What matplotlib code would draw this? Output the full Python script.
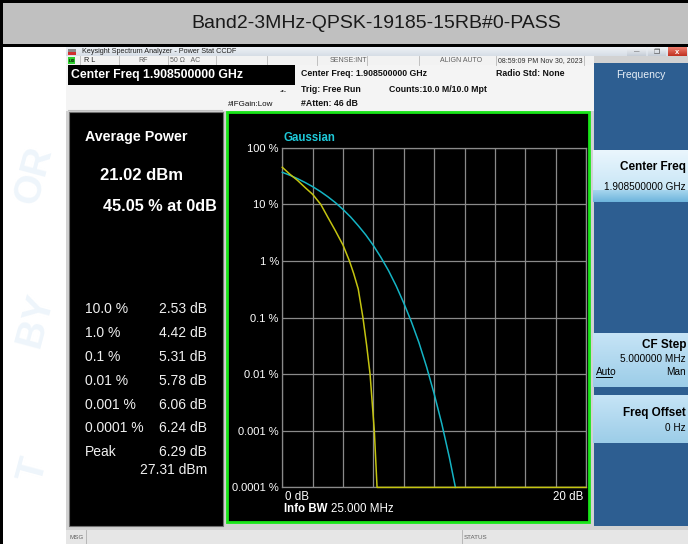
import numpy as np
import matplotlib
matplotlib.use("Agg")
import matplotlib.pyplot as plt
from matplotlib.patches import Rectangle
from matplotlib.colors import to_rgb

plt.rcParams['font.family'] = ['Liberation Sans', 'DejaVu Sans']

gauss_db = [0, 0.5, 1, 1.5, 2, 2.5, 3, 3.5, 4, 4.5, 5, 5.5, 6, 6.5, 7, 7.5, 8, 8.5, 9, 9.5, 10, 10.5, 11, 11.4]
gauss_pct = [36.8, 32.6, 28.4, 24.3, 20.5, 16.9, 13.6, 10.7, 8.1, 5.97, 4.2, 2.88, 1.87, 1.15,
             0.67, 0.362, 0.18, 0.0843, 0.036, 0.0135, 0.0045, 0.00134, 0.00034, 0.0001]

sig_db = [0, 0.5, 1, 1.5, 2, 2.53, 3, 3.5, 4, 4.42, 4.7, 5, 5.31, 5.55, 5.78, 6.06, 6.24, 20]
sig_pct = [45.05, 34, 26.5, 19.8, 15, 10, 5.9, 3.4, 1.9, 1.0, 0.6, 0.32, 0.1, 0.033, 0.01, 0.001, 0.0001, 0.0001]

y_ticks = [100, 10, 1, 0.1, 0.01, 0.001, 0.0001]
y_labels = ["100 %", "10 %", "1 %", "0.1 %", "0.01 %", "0.001 %", "0.0001 %"]

ccdf_rows = ["10.0 %", "1.0 %", "0.1 %", "0.01 %", "0.001 %", "0.0001 %", "Peak"]
ccdf_vals = ["2.53 dB", "4.42 dB", "5.31 dB", "5.78 dB", "6.06 dB", "6.24 dB", "6.29 dB"]

title = "Band2-3MHz-QPSK-19185-15RB#0-PASS"

# === FIGURE ===
fig = plt.figure(figsize=(6.88, 5.44), dpi=100)
bg = fig.add_axes([0, 0, 1, 1])
bg.set_xlim(0, 688)
bg.set_ylim(544, 0)
bg.axis('off')


def box(x0, y0, x1, y1, fc, ec='none', lw=0, z=1):
    bg.add_patch(Rectangle((x0, y0), x1 - x0, y1 - y0, facecolor=fc, edgecolor=ec, linewidth=lw, zorder=z))


def grad(x0, y0, x1, y1, c_top, c_bot, z=2):
    t = np.linspace(0, 1, 64)[:, None, None]
    img = (1 - t) * np.array(to_rgb(c_top)) + t * np.array(to_rgb(c_bot))
    img = np.repeat(img, 2, axis=1)
    bg.imshow(img, extent=(x0, x1, y1, y0), aspect='auto', zorder=z, interpolation='bilinear')


def txt(x, y, s, size=7, color='black', ha='left', weight='normal', z=5, **kw):
    bg.text(x, y, s, fontsize=size, color=color, ha=ha, va='center', fontweight=weight, zorder=z, **kw)


# === BANDEAU TITRE ===
box(0, 0, 688, 544, 'white', z=0)
box(0, 0, 688, 47, 'black', z=0.2)
box(3, 3, 688, 44, '#c0c0c0', z=0.3)
box(0, 47, 3, 544, 'black', z=0.3)
txt(376, 23, title, size=14, color='#1a1a1a', ha='center')

# filigrane (tres pale)
for (wx, wy, ws) in [(34, 175, 'OR'), (36, 320, 'BY'), (34, 470, 'T')]:
    bg.text(wx, wy, ws, fontsize=28, color='#eef5fb', fontweight='bold', rotation=75,
            ha='center', va='center', zorder=0.5)

# === FENETRE ANALYSEUR ===
box(66, 47, 688, 544, '#d2d2d2', z=1)
grad(66, 47, 688, 56, '#eef2f6', '#d6dde6')
box(68, 48.5, 76, 51.5, '#8a8a8a', z=3)
box(68, 51.5, 76, 54.5, '#d03030', z=3)
txt(82, 51.5, "Keysight Spectrum Analyzer - Power Stat CCDF", size=5.2, color='#202020')
grad(627, 47.5, 646, 56, '#f4f6f8', '#c4ccd6', z=3)
grad(648, 47.5, 666, 56, '#f4f6f8', '#c4ccd6', z=3)
grad(668, 47.5, 687, 56, '#f08070', '#c03020', z=3)
txt(636.5, 52, "—", size=4, color='#404040', ha='center')
txt(657, 52, "❐", size=5, color='#404040', ha='center')
txt(677.5, 52, "x", size=5.5, color='white', ha='center', weight='bold')

# ligne d'etat
box(66, 56, 594, 65, '#f2f2f2', z=2)
for xd in [80, 119, 168, 216, 267, 317, 367, 419, 496, 584]:
    bg.plot([xd, xd], [56, 65], color='#b8b8b8', lw=0.6, zorder=3)
box(68, 57, 75, 64, '#30d030', z=3)
txt(71.5, 60.5, "LXI", size=3, color='black', ha='center', weight='bold')
txt(84, 60.5, "R L", size=5.2, color='#202020')
txt(138, 60.5, "RF", size=5, color='#606060')
txt(170, 60.5, "50 Ω   AC", size=5, color='#606060')
txt(330, 60.5, "SENSE:INT", size=5, color='#606060')
txt(440, 60.5, "ALIGN AUTO", size=5, color='#606060')
txt(498, 60.5, "08:59:09 PM Nov 30, 2023", size=5, color='#303030')

# zone infos
box(66, 65, 594, 111, '#f4f4f4', z=2)
box(68, 65, 295, 85, 'black', z=3)
txt(71, 75, "Center Freq 1.908500000 GHz", size=8.8, color='white', weight='bold')
txt(301, 74, "Center Freq: 1.908500000 GHz", size=6.3, weight='bold', color='#101010')
txt(301, 89, "Trig: Free Run", size=6.3, weight='bold', color='#101010')
txt(301, 104, "#Atten: 46 dB", size=6.3, weight='bold', color='#101010')
txt(389, 89, "Counts:10.0 M/10.0 Mpt", size=6.3, weight='bold', color='#101010')
txt(496, 74, "Radio Std: None", size=6.3, weight='bold', color='#101010')
txt(228, 105, "#IFGain:Low", size=5.8, color='#101010')
txt(283, 91, "-•-", size=5, color='#303030', ha='center')
bg.plot([68, 222], [110, 110], color='#c0c0c0', lw=0.8, zorder=3)

# === PANNEAU GAUCHE ===
box(69, 112, 223, 526, 'black', ec='#707070', lw=0.8, z=2)
txt(85, 136.5, "Average Power", size=10.3, color='white', weight='bold')
txt(100, 175, "21.02 dBm", size=12, color='white', weight='bold')
txt(103, 206.5, "45.05 % at 0dB", size=11.7, color='white', weight='bold')
row_y = [309, 332.7, 356.7, 380.7, 405, 428.3, 452.3]
for yy, lab, val in zip(row_y, ccdf_rows, ccdf_vals):
    txt(85, yy, lab, size=10, color='#f0f0f0')
    txt(207, yy, val, size=10, color='#f0f0f0', ha='right')
txt(207.5, 470, "27.31 dBm", size=10, color='#f0f0f0', ha='right')

# === CADRE GRAPHIQUE ===
box(227, 112, 589, 522, 'black', ec='#19e619', lw=2, z=2)
txt(283.3, 137.7, "Gaussian", size=8.3, color='#1ec8d8', weight='bold')
txt(283.5, 509.5, "Info BW", size=8.3, color='white', weight='bold')
txt(331, 509.5, "25.000 MHz", size=8.3, color='white')

# === PANNEAU DROIT ===
box(594, 63, 688, 526, '#2d5e91', z=2)
txt(641, 75, "Frequency", size=7.5, color='#e8f0f8', ha='center')
grad(593, 150, 688, 190, '#eaf6fd', '#c8e6f6', z=3)
grad(593, 190, 688, 202, '#a8d6ee', '#6cb4dc', z=3)
txt(686, 167, "Center Freq", size=8.5, weight='bold', ha='right')
txt(686, 186.5, "1.908500000 GHz", size=7.2, ha='right')
grad(593, 333, 688, 387, '#c6e4f6', '#9ccde8', z=3)
txt(686, 345, "CF Step", size=8.5, weight='bold', ha='right')
txt(686, 359.3, "5.000000 MHz", size=7.2, ha='right')
txt(596, 371.7, "Auto", size=7.2)
bg.plot([596, 612], [376.5, 376.5], color='black', lw=0.7, zorder=5)
txt(686, 371.7, "Man", size=7.2, ha='right')
grad(593, 395, 688, 443, '#c6e4f6', '#9ccde8', z=3)
txt(686, 412.7, "Freq Offset", size=8.5, weight='bold', ha='right')
txt(686, 428.3, "0 Hz", size=7.2, ha='right')

# === BARRE BAS ===
box(66, 530, 688, 544, '#e6e6e6', z=2)
bg.plot([86, 86], [530, 544], color='#b0b0b0', lw=0.6, zorder=3)
bg.plot([461.5, 461.5], [530, 544], color='#b0b0b0', lw=0.6, zorder=3)
txt(69, 537.5, "MSG", size=4.5, color='#606060')
txt(463.5, 537.5, "STATUS", size=4.5, color='#606060')

# === COURBES CCDF ===
ax = fig.add_axes([282.3 / 688, (544 - 487.4) / 544, 303.7 / 688, 339.7 / 544])
ax.set_facecolor('black')
ax.set_yscale('log')
ax.set_xlim(0, 20)
ax.set_ylim(1e-4, 100)
ax.set_xticks(np.arange(0, 21, 2))
ax.set_xticklabels([])
ax.set_yticks(y_ticks)
ax.set_yticklabels(y_labels)
ax.yaxis.set_minor_locator(matplotlib.ticker.NullLocator())
ax.tick_params(axis='both', length=0, colors='white', labelsize=8, pad=2.5)
ax.grid(True, color='#8a8a8a', linewidth=0.9)
for sp in ax.spines.values():
    sp.set_color('#8a8a8a')
    sp.set_linewidth(0.9)

ax.plot(gauss_db, gauss_pct, color='#14b4c4', linewidth=1.1, clip_on=False, zorder=3)
ax.plot(sig_db, sig_pct, color='#c4c410', linewidth=1.1, clip_on=False, zorder=4)

ax.text(0.008, -0.012, "0 dB", transform=ax.transAxes, color='white', fontsize=8.3, ha='left', va='top')
ax.text(0.992, -0.012, "20 dB", transform=ax.transAxes, color='white', fontsize=8.3, ha='right', va='top')

fig.savefig("out.png", dpi=100)
